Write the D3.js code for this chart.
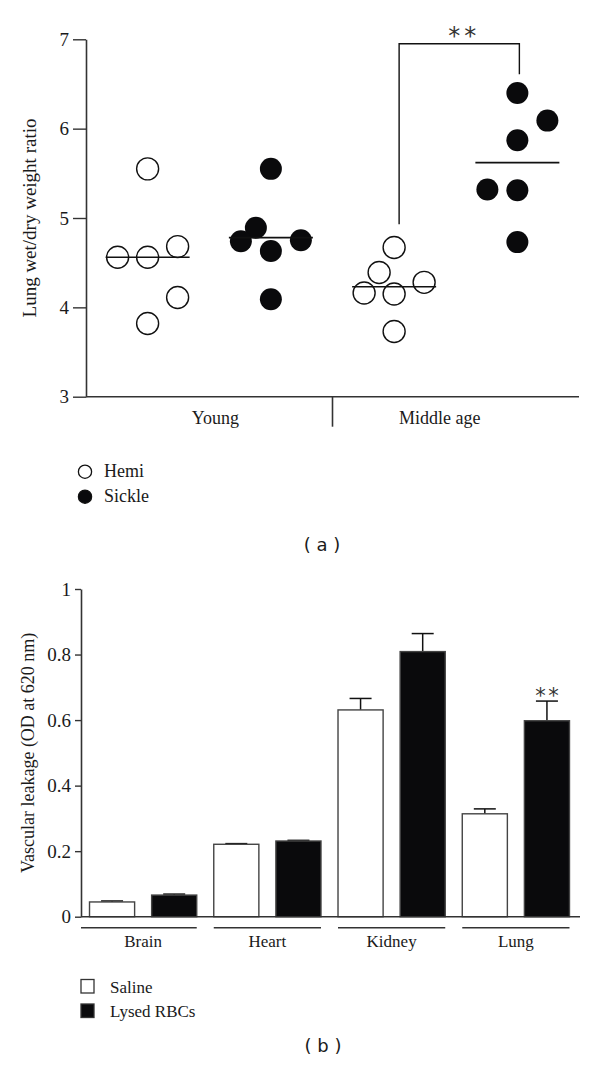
<!DOCTYPE html>
<html lang="en">
<head>
<meta charset="utf-8">
<title>Lung wet/dry ratio and vascular leakage</title>
<script src="https://cdn.jsdelivr.net/npm/d3@7/dist/d3.min.js"></script>
<style>
  body { margin: 0; background: #fff; }
  svg { display: block; }
  text { font-family: "Liberation Serif", "DejaVu Serif", serif; fill: #1a1a1a; }
  .panel-tag { font-family: "DejaVu Sans", "Liberation Sans", sans-serif; }
  .stars { font-family: "DejaVu Sans", sans-serif; fill: #333; }
</style>
</head>
<body>
<div id="chart"></div>
<script>
// Panel (a) data
var ageGroups = ["Young", "Middle age"];
var genotypes = ["Hemi", "Sickle"];
var youngHemi = [5.55, 4.56, 4.56, 4.68, 4.11, 3.82];
var youngSickle = [5.55, 4.89, 4.74, 4.63, 4.75, 4.09];
var middleHemi = [4.67, 4.39, 4.16, 4.15, 4.28, 3.73];
var middleSickle = [6.40, 6.09, 5.87, 5.32, 5.31, 4.73];
// column of each dot inside its scatter (dot order as above)
var youngHemiCol = [0, -1, 0, 1, 1, 0];
var youngSickleCol = [0, -0.5, -1, 0, 1, 0];
var middleHemiCol = [0, -0.5, -1, 0, 1, 0];
var middleSickleCol = [0, 1, 0, -1, 0, 0];
var groupMeans = [4.56, 4.78, 4.23, 5.62];
var ticksA = [3, 4, 5, 6, 7];

// Panel (b) data
var organs = ["Brain", "Heart", "Kidney", "Lung"];
var treatments = ["Saline", "Lysed RBCs"];
var saline = [0.045, 0.221, 0.631, 0.314];
var salineErr = [0.003, 0.002, 0.035, 0.015];
var lysed = [0.066, 0.231, 0.809, 0.598];
var lysedErr = [0.003, 0.002, 0.055, 0.06];
var ticksB = [0, 0.2, 0.4, 0.6, 0.8, 1];

var ink = "#333";
var black = "#0a0a0c";

var svg = d3.select("#chart").append("svg")
    .attr("width", 600)
    .attr("height", 1069);

// ---------- panel (a) ----------
var xA = d3.scaleLinear().domain([-0.5, 3.5]).range([86, 579]);
var yA = d3.scaleLinear().domain([3, 7]).range([396.7, 39.3]);
var colStep = 30;

var axisA = svg.append("g")
    .attr("transform", "translate(86,0)")
    .call(d3.axisLeft(yA).tickValues(ticksA).tickSize(13).tickSizeOuter(0).tickPadding(4).tickFormat(d3.format("d")));
axisA.select(".domain").attr("stroke", ink).attr("stroke-width", 1.6);
axisA.selectAll(".tick line").attr("stroke", ink).attr("stroke-width", 1.4);
axisA.selectAll(".tick text").attr("font-size", 19).attr("font-family", "Liberation Serif").attr("fill", "#1a1a1a");

svg.append("line")
    .attr("x1", xA(-0.5)).attr("x2", xA(3.5))
    .attr("y1", yA(3)).attr("y2", yA(3))
    .attr("stroke", ink).attr("stroke-width", 1.6);
svg.append("line")
    .attr("x1", xA(1.5)).attr("x2", xA(1.5))
    .attr("y1", yA(3)).attr("y2", yA(3) + 30)
    .attr("stroke", ink).attr("stroke-width", 1.6);

svg.selectAll(".age-label")
    .data(ageGroups)
    .enter()
    .append("text")
    .attr("class", "age-label")
    .attr("x", function(d, i) { return xA(i === 0 ? 0.55 : 2.37); })
    .attr("y", yA(3) + 27)
    .attr("text-anchor", "middle")
    .attr("font-size", 18)
    .text(function(d) { return d; });

svg.append("text")
    .attr("transform", "translate(36," + yA(5) + ") rotate(-90)")
    .attr("text-anchor", "middle")
    .attr("font-size", 19)
    .text("Lung wet/dry weight ratio");

var scatters = [
    { vals: youngHemi, cols: youngHemiCol, g: 0, type: "Hemi" },
    { vals: youngSickle, cols: youngSickleCol, g: 1, type: "Sickle" },
    { vals: middleHemi, cols: middleHemiCol, g: 2, type: "Hemi" },
    { vals: middleSickle, cols: middleSickleCol, g: 3, type: "Sickle" }
];

scatters.forEach(function(s) {
    var pts = s.vals.map(function(v, i) { return { v: v, c: s.cols[i] }; });
    svg.append("g").selectAll("circle")
        .data(pts)
        .enter()
        .append("circle")
        .attr("cx", function(d) { return xA(s.g) + d.c * colStep; })
        .attr("cy", function(d) { return yA(d.v); })
        .attr("r", 11)
        .attr("fill", s.type === "Hemi" ? "#fff" : black)
        .attr("stroke", s.type === "Hemi" ? "#111" : "none")
        .attr("stroke-width", 1.4);
});

// mean lines
svg.selectAll(".mean")
    .data(groupMeans)
    .enter()
    .append("line")
    .attr("class", "mean")
    .attr("x1", function(d, i) { return xA(i) - 42; })
    .attr("x2", function(d, i) { return xA(i) + 42; })
    .attr("y1", function(d) { return yA(d); })
    .attr("y2", function(d) { return yA(d); })
    .attr("stroke", "#111").attr("stroke-width", 1.6);

// significance bracket
var bx1 = xA(2) + 5, bx2 = xA(3) + 2;
svg.append("path")
    .attr("d", "M" + bx1 + "," + yA(4.93) + "V" + yA(6.95) + "H" + bx2 + "V" + yA(6.61))
    .attr("fill", "none").attr("stroke", "#111").attr("stroke-width", 1.4);
svg.append("text")
    .attr("class", "stars")
    .attr("x", (bx1 + bx2) / 2 + 3 + 2)
    .attr("y", 44)
    .attr("text-anchor", "middle")
    .attr("font-size", 24)
    .attr("letter-spacing", 4)
    .text("**");

// legend (a)
var legA = svg.selectAll(".legA")
    .data(genotypes)
    .enter()
    .append("g")
    .attr("class", "legA")
    .attr("transform", function(d, i) { return "translate(85," + (471.7 + i * 25) + ")"; });
legA.append("circle")
    .attr("r", 6.6)
    .attr("fill", function(d) { return d === "Hemi" ? "#fff" : black; })
    .attr("stroke", "#111").attr("stroke-width", 1.3);
legA.append("text")
    .attr("x", 19)
    .attr("y", 5)
    .attr("font-size", 18)
    .text(function(d) { return d; });

svg.append("text")
    .attr("class", "panel-tag")
    .attr("x", 322).attr("y", 551)
    .attr("text-anchor", "middle")
    .attr("font-size", 18)
    .attr("xml:space", "preserve")
    .text("( a )");

// ---------- panel (b) ----------
var yB = d3.scaleLinear().domain([0, 1]).range([916.7, 589]);
var xB = d3.scaleBand().domain(organs).range([81, 578]);
var xInner = d3.scaleBand().domain(treatments).range([0, xB.bandwidth()])
    .paddingInner(0.274).paddingOuter(0.137);

var axisB = svg.append("g")
    .attr("transform", "translate(81,0)")
    .call(d3.axisLeft(yB).tickValues(ticksB).tickSize(6).tickSizeOuter(0).tickPadding(4)
        .tickFormat(function(d) { return d === 0 ? "0" : d === 1 ? "1" : d3.format(".1f")(d); }));
axisB.select(".domain").attr("stroke", ink).attr("stroke-width", 1.6);
axisB.selectAll(".tick line").attr("stroke", ink).attr("stroke-width", 1.4);
axisB.selectAll(".tick text").attr("font-size", 19).attr("font-family", "Liberation Serif").attr("fill", "#1a1a1a");

svg.append("text")
    .attr("transform", "translate(34," + yB(0.5) + ") rotate(-90)")
    .attr("text-anchor", "middle")
    .attr("font-size", 18)
    .text("Vascular leakage (OD at 620 nm)");

var bars = [];
organs.forEach(function(o, i) {
    bars.push({ organ: o, t: treatments[0], v: saline[i], e: salineErr[i] });
    bars.push({ organ: o, t: treatments[1], v: lysed[i], e: lysedErr[i] });
});

var barG = svg.append("g").selectAll("g")
    .data(bars)
    .enter()
    .append("g");

barG.append("line")
    .attr("x1", function(d) { return xB(d.organ) + xInner(d.t) + xInner.bandwidth() / 2; })
    .attr("x2", function(d) { return xB(d.organ) + xInner(d.t) + xInner.bandwidth() / 2; })
    .attr("y1", function(d) { return yB(d.v); })
    .attr("y2", function(d) { return yB(d.v + d.e); })
    .attr("stroke", "#111").attr("stroke-width", 1.5);
barG.append("line")
    .attr("x1", function(d) { return xB(d.organ) + xInner(d.t) + xInner.bandwidth() / 2 - 11; })
    .attr("x2", function(d) { return xB(d.organ) + xInner(d.t) + xInner.bandwidth() / 2 + 11; })
    .attr("y1", function(d) { return yB(d.v + d.e); })
    .attr("y2", function(d) { return yB(d.v + d.e); })
    .attr("stroke", "#111").attr("stroke-width", 1.5);
barG.append("rect")
    .attr("x", function(d) { return xB(d.organ) + xInner(d.t); })
    .attr("y", function(d) { return yB(d.v); })
    .attr("width", xInner.bandwidth())
    .attr("height", function(d) { return yB(0) - yB(d.v); })
    .attr("fill", function(d) { return d.t === "Saline" ? "#fff" : black; })
    .attr("stroke", "#444").attr("stroke-width", 1.4);

svg.append("line")
    .attr("x1", 81).attr("x2", 580)
    .attr("y1", yB(0)).attr("y2", yB(0))
    .attr("stroke", ink).attr("stroke-width", 1.6);

// organ underlines and labels
svg.selectAll(".organ-line")
    .data(organs)
    .enter()
    .append("line")
    .attr("class", "organ-line")
    .attr("x1", function(d, i) { return i === 0 ? 81 : xB(d) + xInner(treatments[0]); })
    .attr("x2", function(d) { return xB(d) + xInner(treatments[1]) + xInner.bandwidth(); })
    .attr("y1", yB(0) + 11).attr("y2", yB(0) + 11)
    .attr("stroke", ink).attr("stroke-width", 1.4);

svg.selectAll(".organ-label")
    .data(organs)
    .enter()
    .append("text")
    .attr("class", "organ-label")
    .attr("x", function(d) { return xB(d) + xB.bandwidth() / 2; })
    .attr("y", 947)
    .attr("text-anchor", "middle")
    .attr("font-size", 17)
    .text(function(d) { return d; });

// significance stars over Lung / Lysed
svg.append("text")
    .attr("class", "stars")
    .attr("x", xB("Lung") + xInner(treatments[1]) + xInner.bandwidth() / 2 + 1.3)
    .attr("y", yB(lysed[3] + lysedErr[3]) + 2)
    .attr("text-anchor", "middle")
    .attr("font-size", 21)
    .attr("letter-spacing", 2.5)
    .text("**");

// legend (b)
var legB = svg.selectAll(".legB")
    .data(treatments)
    .enter()
    .append("g")
    .attr("class", "legB")
    .attr("transform", function(d, i) { return "translate(81," + (979.5 + i * 24.5) + ")"; });
legB.append("rect")
    .attr("width", 13).attr("height", 13.5)
    .attr("fill", function(d) { return d === "Saline" ? "#fff" : black; })
    .attr("stroke", "#333").attr("stroke-width", 1.3);
legB.append("text")
    .attr("x", 29)
    .attr("y", 13)
    .attr("font-size", 17)
    .text(function(d) { return d; });

svg.append("text")
    .attr("class", "panel-tag")
    .attr("x", 323).attr("y", 1052)
    .attr("text-anchor", "middle")
    .attr("font-size", 18)
    .attr("xml:space", "preserve")
    .text("( b )");
</script>
</body>
</html>
